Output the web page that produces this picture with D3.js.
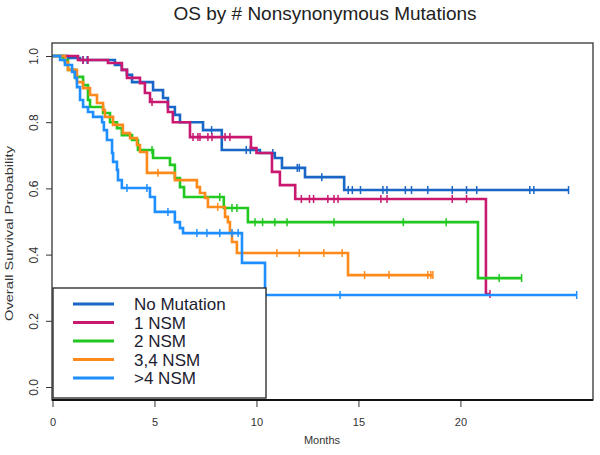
<!DOCTYPE html>
<html>
<head>
<meta charset="utf-8">
<script src="https://cdn.jsdelivr.net/npm/d3@7"></script>
<style>
  body { margin: 0; background: #fff; }
  text { font-family: "Liberation Sans", Arial, sans-serif; }
</style>
</head>
<body>
<div id="canvas"></div>
<script>
// group names + colours for legend
const groups = ["No Mutation", "1 NSM", "2 NSM", "3,4 NSM", ">4 NSM"];
const colors = ["#1866c6", "#c9186f", "#20c820", "#ff8a1c", "#1f8fff"];

// step points: time (months) at which survival changes, and the new survival
const noMutTimes = [0, 0.76, 1.35, 3.06, 3.4, 3.65, 3.9, 4.93, 5.42, 5.66, 6.0, 6.25, 7.38, 8.3, 10.17, 10.9, 11.25, 12.38, 14.3, 25.3];
const noMutSurv  = [1, 0.994, 0.988, 0.973, 0.958, 0.943, 0.921, 0.897, 0.873, 0.846, 0.822, 0.80, 0.776, 0.716, 0.707, 0.692, 0.662, 0.634, 0.595, 0.595];
const noMutCens  = [1.5, 1.7, 7.8, 9.5, 9.7, 10.8, 12.0, 12.1, 13.2, 14.5, 14.7, 15.1, 16.2, 16.4, 17.3, 17.6, 18.4, 19.6, 20.3, 20.8, 23.4, 23.6, 25.3];

const nsm1Times = [0, 1.25, 2.72, 3.4, 3.65, 4.29, 4.53, 4.78, 5.66, 5.9, 6.74, 9.73, 10.0, 10.76, 11.15, 11.9, 21.25, 21.45];
const nsm1Surv  = [1, 0.988, 0.979, 0.958, 0.934, 0.918, 0.888, 0.861, 0.831, 0.80, 0.755, 0.722, 0.707, 0.65, 0.61, 0.568, 0.281, 0.281];
const nsm1Cens  = [1.5, 1.74, 4.88, 6.89, 7.13, 7.23, 7.62, 7.82, 8.46, 8.7, 12.2, 12.6, 12.8, 13.5, 13.8, 14.0, 16.1, 16.4, 19.6, 20.3, 21.45];

const nsm2Times = [0, 0.51, 0.76, 1.1, 1.5, 1.74, 1.84, 2.48, 2.82, 3.16, 3.4, 3.9, 4.19, 4.93, 5.76, 6.0, 6.25, 6.45, 8.4, 9.58, 20.86, 23.0];
const nsm2Surv  = [1, 0.988, 0.958, 0.937, 0.912, 0.867, 0.846, 0.828, 0.80, 0.782, 0.761, 0.746, 0.716, 0.692, 0.671, 0.631, 0.604, 0.574, 0.541, 0.498, 0.329, 0.329];
const nsm2Cens  = [4.88, 8.2, 8.8, 9.04, 9.93, 10.3, 10.9, 11.5, 13.8, 17.2, 19.3, 21.9, 23.0];

const nsm34Times = [0, 0.61, 0.76, 1.2, 1.5, 1.84, 2.18, 2.48, 2.57, 2.97, 3.45, 3.8, 4.14, 4.29, 4.63, 6.0, 7.08, 7.23, 7.48, 7.62, 8.46, 8.6, 8.7, 8.8, 9.04, 14.49, 18.65];
const nsm34Surv  = [1, 0.982, 0.958, 0.921, 0.903, 0.882, 0.858, 0.837, 0.816, 0.792, 0.767, 0.752, 0.731, 0.71, 0.647, 0.625, 0.604, 0.586, 0.571, 0.544, 0.514, 0.498, 0.468, 0.438, 0.405, 0.338, 0.338];
const nsm34Cens  = [5.17, 8.1, 11.0, 12.1, 13.3, 14.2, 15.3, 16.5, 18.4, 18.55, 18.65];

const nsm4Times = [0, 0.37, 0.61, 0.96, 1.1, 1.2, 1.35, 1.5, 1.74, 1.99, 2.43, 2.52, 2.67, 2.92, 2.97, 3.16, 3.21, 3.4, 4.78, 5.02, 6.0, 6.25, 6.4, 9.29, 10.42, 25.7];
const nsm4Surv  = [1, 0.988, 0.973, 0.952, 0.934, 0.906, 0.867, 0.846, 0.831, 0.816, 0.80, 0.776, 0.746, 0.707, 0.68, 0.656, 0.625, 0.601, 0.574, 0.529, 0.498, 0.48, 0.465, 0.375, 0.278, 0.278];
const nsm4Cens  = [3.65, 4.63, 5.66, 7.08, 7.57, 8.2, 8.8, 9.1, 14.1, 25.7];

const yTicks = [0, 0.2, 0.4, 0.6, 0.8, 1.0];
const xTicks = [0, 5, 10, 15, 20];

const curves = [
  {times: noMutTimes, surv: noMutSurv, cens: noMutCens},
  {times: nsm1Times, surv: nsm1Surv, cens: nsm1Cens},
  {times: nsm2Times, surv: nsm2Surv, cens: nsm2Cens},
  {times: nsm34Times, surv: nsm34Surv, cens: nsm34Cens},
  {times: nsm4Times, surv: nsm4Surv, cens: nsm4Cens}
];

const width = 600;
const height = 455;
const box = {left: 52, right: 593, top: 43, bottom: 400};

const svg = d3.select("#canvas").append("svg")
  .attr("width", width)
  .attr("height", height);

svg.append("rect").attr("width", width).attr("height", height).attr("fill", "#fff");

const x = d3.scaleLinear().domain([0, 26.5]).range([52.5, 593]);
const y = d3.scaleLinear().domain([0, 1]).range([387, 56]);

// title + axis titles
svg.append("text")
  .attr("x", 325).attr("y", 20)
  .attr("text-anchor", "middle")
  .style("font-size", "19px")
  .style("fill", "#222")
  .text("OS by # Nonsynonymous Mutations");

svg.append("text")
  .attr("x", 322).attr("y", 444)
  .attr("text-anchor", "middle")
  .style("font-size", "11px")
  .style("fill", "#333")
  .text("Months");

svg.append("text")
  .attr("transform", `translate(13, ${(box.top + box.bottom) / 2 + 12}) rotate(-90)`)
  .attr("text-anchor", "middle")
  .attr("textLength", 175)
  .attr("lengthAdjust", "spacingAndGlyphs")
  .style("font-size", "11px")
  .style("fill", "#333")
  .text("Overall Survival Probability");

// axes
const yAxis = svg.append("g")
  .attr("transform", `translate(${box.left},0)`)
  .call(d3.axisLeft(y).tickValues(yTicks).tickFormat(d3.format(".1f")).tickSize(6));
yAxis.select(".domain").remove();
yAxis.selectAll("text")
  .attr("x", 0).attr("dy", 0)
  .attr("text-anchor", "middle")
  .attr("transform", "translate(-14,0) rotate(-90)")
  .style("font-size", "12px")
  .style("fill", "#333");

const xAxis = svg.append("g")
  .attr("transform", `translate(0,${box.bottom})`)
  .call(d3.axisBottom(x).tickValues(xTicks).tickSize(7).tickPadding(11));
xAxis.select(".domain").remove();
xAxis.selectAll("text").style("font-size", "11px").style("fill", "#333");
svg.selectAll(".tick line").attr("stroke", "#333");

// survival curves
const line = d3.line()
  .x(d => x(d[0]))
  .y(d => y(d[1]))
  .curve(d3.curveStepAfter);

const survAt = (c, t) => {
  let s = c.surv[0];
  for (let i = 0; i < c.times.length; i++) {
    if (c.times[i] <= t) s = c.surv[i];
  }
  return s;
};

const plot = svg.append("g");
curves.forEach((c, i) => {
  const pts = c.times.map((t, j) => [t, c.surv[j]]);
  plot.append("path")
    .attr("d", line(pts))
    .attr("fill", "none")
    .attr("stroke", colors[i])
    .attr("stroke-width", 2.6);
  plot.selectAll(".cens" + i)
    .data(c.cens)
    .enter().append("line")
    .attr("class", "cens" + i)
    .attr("x1", d => x(d)).attr("x2", d => x(d))
    .attr("y1", d => y(survAt(c, d)) - 4)
    .attr("y2", d => y(survAt(c, d)) + 4)
    .attr("stroke", colors[i])
    .attr("stroke-width", 1.5);
});

// legend
const leg = svg.append("g");
leg.append("rect")
  .attr("x", 53).attr("y", 288)
  .attr("width", 213).attr("height", 110)
  .attr("fill", "#fff")
  .attr("stroke", "#222")
  .attr("stroke-width", 1.3);

groups.forEach((g, i) => {
  const yy = 304 + i * 18.5;
  leg.append("line")
    .attr("x1", 73).attr("x2", 114)
    .attr("y1", yy).attr("y2", yy)
    .attr("stroke", colors[i])
    .attr("stroke-width", 3);
  leg.append("text")
    .attr("x", 134).attr("y", yy)
    .attr("dy", "0.36em")
    .style("font-size", "17px")
    .style("fill", "#1c1c30")
    .text(g);
});

// plot frame
svg.append("rect")
  .attr("x", box.left).attr("y", box.top)
  .attr("width", box.right - box.left)
  .attr("height", box.bottom - box.top)
  .attr("fill", "none")
  .attr("stroke", "#333")
  .attr("stroke-width", 1.3);
svg.append("line")
  .attr("x1", box.left).attr("x2", box.right)
  .attr("y1", box.bottom).attr("y2", box.bottom)
  .attr("stroke", "#111")
  .attr("stroke-width", 2);
</script>
</body>
</html>
